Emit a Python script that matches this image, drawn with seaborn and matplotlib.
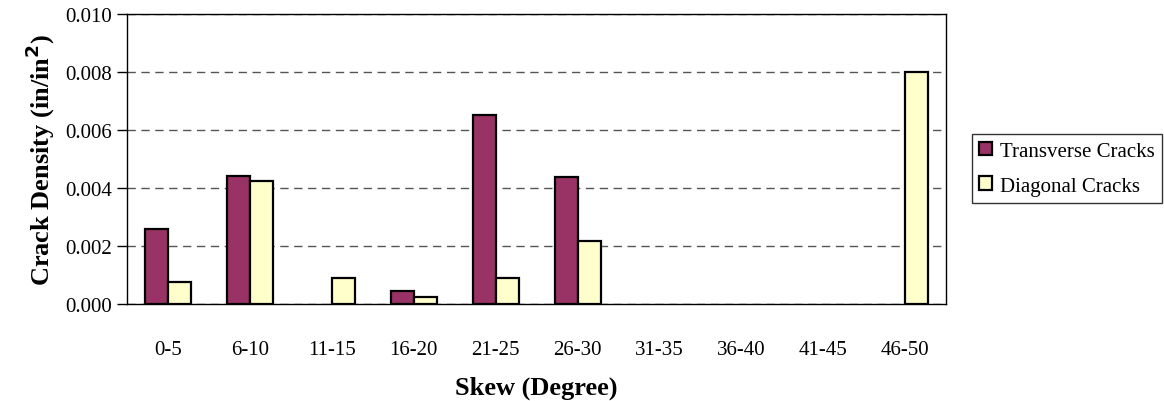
import numpy as np
import pandas as pd
import seaborn as sns
import matplotlib.pyplot as plt
from matplotlib.patches import Patch

# Crack density by skew range
skew = ['0-5', '6-10', '11-15', '16-20', '21-25', '26-30', '31-35', '36-40', '41-45', '46-50']
transverse = [0.0026, 0.0044, 0.0, 0.00045, 0.0065, 0.00437, 0.0, 0.0, 0.0, 0.0]
diagonal = [0.00075, 0.00425, 0.0009, 0.00025, 0.0009, 0.00216, 0.0, 0.0, 0.0, 0.008]
series = ['Transverse Cracks', 'Diagonal Cracks']
colors = ['#993366', '#FFFFCC']

df = pd.DataFrame({
    'skew': skew * 2,
    'density': transverse + diagonal,
    'type': [series[0]] * len(skew) + [series[1]] * len(skew),
})

sns.set_theme(style="white")
plt.rcParams['font.family'] = ['Liberation Serif', 'DejaVu Serif']
plt.rcParams['text.color'] = 'black'
plt.rcParams['axes.labelcolor'] = 'black'
plt.rcParams['xtick.color'] = 'black'
plt.rcParams['ytick.color'] = 'black'

fig = plt.figure(figsize=(11.64, 4.02), dpi=100)
ax = fig.add_axes([0.109, 0.241, 0.704, 0.722])

sns.barplot(data=df, x='skew', y='density', hue='type', palette=colors, saturation=1,
            width=0.56, edgecolor='black', linewidth=1.6, ax=ax, legend=False)

# Excel draws nothing for empty categories
for p in ax.patches:
    if p.get_height() == 0:
        p.set_visible(False)

ax.set_ylim(0, 0.010)
ax.set_xlim(-0.5, len(skew) - 0.5)
yt = np.arange(0, 0.0101, 0.002)
ax.set_yticks(yt)
ax.set_yticklabels([f'{v:.3f}' for v in yt], fontsize=15)
ax.yaxis.grid(True, linestyle=(0, (6, 4)), color='#555555', linewidth=1)
ax.set_axisbelow(True)

# ticks between categories
ax.set_xticks(np.arange(len(skew)))
ax.set_xticklabels(skew, fontsize=15)
ax.set_xticks(np.arange(-0.5, len(skew), 1), minor=True)
ax.tick_params(axis='x', which='major', length=0, pad=26)
ax.tick_params(axis='x', which='minor', length=7, width=1, color='black', direction='out')
ax.tick_params(axis='y', which='major', length=7, width=1, color='black', direction='out', left=True)

for s in ax.spines.values():
    s.set_color('black')
    s.set_linewidth(1)

ax.set_xlabel('Skew (Degree)', fontsize=19, fontweight='bold', labelpad=12)
ax.set_ylabel('Crack Density (in/in$^\\mathbf{2}$)', fontsize=19, fontweight='bold', labelpad=6)

handles = [Patch(facecolor=c, edgecolor='black', linewidth=1.6) for c in colors]
leg = fig.legend(handles, series, loc='center left', bbox_to_anchor=(0.835, 0.578),
                 fontsize=15, frameon=True, fancybox=False, edgecolor='black',
                 handlelength=0.63, handleheight=0.63, handletextpad=0.38,
                 borderpad=0.35, labelspacing=0.75, borderaxespad=0)
leg.get_frame().set_linewidth(1)

fig.savefig('out.png', dpi=100)
